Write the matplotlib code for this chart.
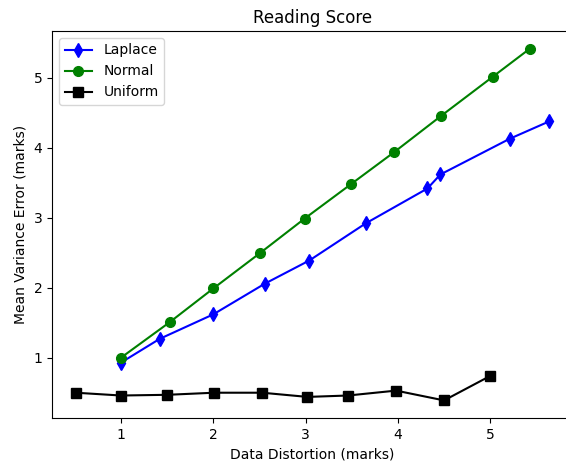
import matplotlib
matplotlib.use("Agg")
import matplotlib.pyplot as plt

laplace_x = [1.0, 1.42, 2.0, 2.56, 3.04, 3.65, 4.32, 4.46, 5.21, 5.64]
laplace_y = [0.93, 1.27, 1.62, 2.06, 2.39, 2.92, 3.42, 3.62, 4.13, 4.38]
normal_x = [1.0, 1.53, 2.0, 2.51, 2.99, 3.49, 3.96, 4.47, 5.03, 5.43]
normal_y = [1.0, 1.51, 1.99, 2.5, 2.99, 3.48, 3.94, 4.46, 5.02, 5.42]
uniform_x = [0.51, 1.0, 1.5, 2.01, 2.53, 3.02, 3.46, 3.98, 4.5, 5.0]
uniform_y = [0.5, 0.46, 0.47, 0.5, 0.5, 0.44, 0.46, 0.53, 0.39, 0.74]

fig = plt.figure(figsize=(5.66, 4.72), dpi=100)
ax = fig.add_axes([52/566, 1-418/472, (573-52)/566, (418-31)/472])
ax.plot(laplace_x, laplace_y, color='blue', marker='d', markersize=7.5, label='Laplace')
ax.plot(normal_x, normal_y, color='green', marker='o', markersize=7, label='Normal')
ax.plot(uniform_x, uniform_y, color='black', marker='s', markersize=7, label='Uniform')
ax.set_title('Reading Score')
ax.set_xlabel('Data Distortion (marks)')
ax.set_ylabel('Mean Variance Error (marks)')
ax.set_xticks([1, 2, 3, 4, 5])
ax.set_yticks([1, 2, 3, 4, 5])
ax.legend(loc='upper left')
fig.savefig('out.png', dpi=100)
